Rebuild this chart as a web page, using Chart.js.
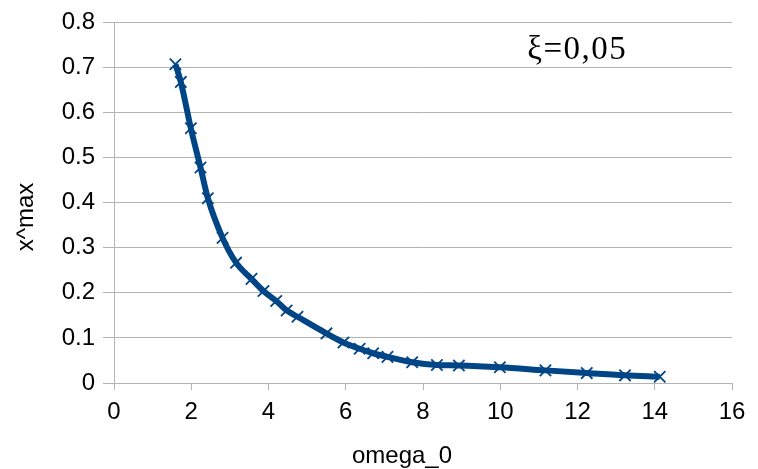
<!DOCTYPE html>
<html>
<head>
<meta charset="utf-8">
<script src="https://cdn.jsdelivr.net/npm/chart.js@4/dist/chart.umd.min.js"></script>
<style>
  html, body { margin: 0; padding: 0; background: #ffffff; }
  #wrap { width: 758px; height: 469px; position: relative; }
</style>
</head>
<body>
<div id="wrap"><canvas id="c" width="758" height="469"></canvas></div>
<script>
// Natural frequency omega_0 and the corresponding peak amplitude x^max
const omega0 = [1.59, 1.73, 1.99, 2.24, 2.43, 2.81, 3.16, 3.56, 3.87, 4.20, 4.47, 4.75,
                5.50, 5.94, 6.36, 6.71, 7.08, 7.72, 8.36, 8.93, 9.99, 11.17, 12.24, 13.23, 14.13];
const xMax = [0.707, 0.668, 0.565, 0.478, 0.410, 0.322, 0.267, 0.231, 0.204, 0.182, 0.161, 0.147,
              0.110, 0.090, 0.076, 0.066, 0.058, 0.046, 0.040, 0.039, 0.035, 0.028, 0.022, 0.017, 0.014];
const xTickLabels = ['0', '2', '4', '6', '8', '10', '12', '14', '16'];
const yTickLabels = ['0', '0.1', '0.2', '0.3', '0.4', '0.5', '0.6', '0.7', '0.8'];
const xTitle = 'omega_0';
const yTitle = 'x^max';
const dampingLabel = 'ξ=0,05';

const points = omega0.map((v, i) => ({ x: v, y: xMax[i] }));
const blue = '#004586';
const gridGray = '#b3b3b3';
const sans = '"Liberation Sans", Arial, sans-serif';

// Axis titles and the damping note
const textLayer = {
  id: 'textLayer',
  afterDraw(chart) {
    const ctx = chart.ctx;
    const xs = chart.scales.x, ys = chart.scales.y;
    ctx.save();
    ctx.fillStyle = '#000000';

    ctx.font = '24px ' + sans;
    ctx.textAlign = 'center';
    ctx.textBaseline = 'alphabetic';
    ctx.fillText(xTitle, 402, 463);

    ctx.save();
    ctx.translate(33, 217);
    ctx.rotate(-Math.PI / 2);
    ctx.textAlign = 'center';
    ctx.textBaseline = 'alphabetic';
    ctx.fillText(yTitle, 0, 0);
    ctx.restore();

    ctx.font = '33px "Liberation Serif", "DejaVu Serif", serif';
    ctx.letterSpacing = '1.5px';
    ctx.textAlign = 'left';
    ctx.fillText(dampingLabel, xs.getPixelForValue(10.7), ys.getPixelForValue(0.719));
    ctx.restore();
  }
};

new Chart(document.getElementById('c'), {
  type: 'line',
  data: {
    datasets: [{
      data: points,
      borderColor: blue,
      backgroundColor: blue,
      borderWidth: 6,
      tension: 0.35,
      cubicInterpolationMode: 'monotone',
      pointStyle: 'crossRot',
      pointRadius: 8,
      pointBorderWidth: 1.8,
      pointBorderColor: blue,
      pointHoverRadius: 8,
      fill: false
    }]
  },
  options: {
    responsive: false,
    animation: false,
    devicePixelRatio: 1,
    layout: { padding: { top: 20, right: 26, left: 0, bottom: 0 } },
    plugins: { legend: { display: false }, tooltip: { enabled: false } },
    scales: {
      x: {
        type: 'linear',
        min: 0, max: 16,
        ticks: {
          stepSize: 2,
          color: '#000000',
          padding: 8,
          font: { family: sans, size: 24 },
          callback: (v) => xTickLabels[Math.round(v / 2)]
        },
        grid: { drawOnChartArea: false, drawTicks: true, tickLength: 7, color: gridGray, lineWidth: 1 },
        border: { display: false },
        afterFit(scale) { scale.height = 86; }
      },
      y: {
        type: 'linear',
        min: 0, max: 0.8,
        ticks: {
          stepSize: 0.1,
          color: '#000000',
          padding: 8,
          font: { family: sans, size: 24 },
          callback: (v) => yTickLabels[Math.round(v * 10)]
        },
        grid: { drawOnChartArea: true, drawTicks: true, tickLength: 11, color: gridGray, lineWidth: 1 },
        border: { display: true, color: gridGray, width: 1 },
        afterFit(scale) { scale.width = 114; }
      }
    }
  },
  plugins: [textLayer]
});
</script>
</body>
</html>
